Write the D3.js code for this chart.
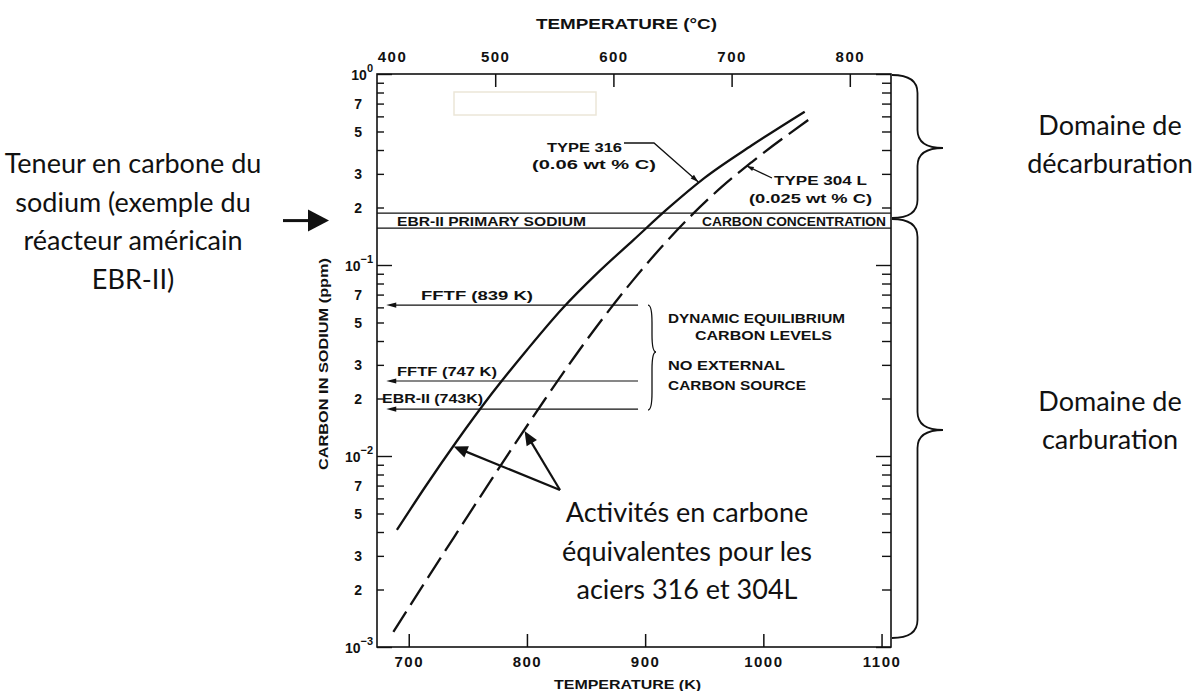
<!DOCTYPE html>
<html><head><meta charset="utf-8">
<script src="https://cdn.jsdelivr.net/npm/d3@7"></script>
<style>
html,body{margin:0;padding:0;background:#fff;}
svg{display:block;}
.fig{font-family:"Liberation Sans",Arial,sans-serif;font-weight:bold;fill:#111;}
.note{font-family:Lato,"Open Sans",sans-serif;fill:#111;font-size:27px;}
</style></head><body>
<svg id="chart" width="1203" height="691"></svg>
<script>
// ---------------- data ----------------
const tempK316   = [690, 715, 740, 770, 800, 830, 860, 890, 920, 950, 990, 1035];
const carbon316  = [0.0041, 0.00705, 0.0118, 0.0211, 0.0359, 0.0592, 0.0912, 0.135, 0.1995, 0.285, 0.422, 0.635];
const tempK304L  = [687, 710, 740, 765, 790, 815, 840, 865, 890, 915, 940, 965, 990, 1041];
const carbon304L = [0.0012, 0.00201, 0.0039, 0.00675, 0.0116, 0.0197, 0.0329, 0.0533, 0.0836, 0.1265, 0.184, 0.257, 0.345, 0.592];
const bandCarbon = [0.156, 0.187];                 // EBR-II primary sodium band
const refLabels  = ["FFTF (839 K)", "FFTF (747 K)", "EBR-II (743K)"];
const refCarbon  = [0.0617, 0.0247, 0.0176];
const refTempK   = [681, 894];                      // extent of the reference arrows
const xTicksK    = [700, 800, 900, 1000, 1100];
const xTicksC    = [400, 500, 600, 700, 800];
const yLabelDigits = [2, 3, 5, 7];
const yDecadeExp = [-3, -2, -1, 0];

// ---------------- layout ----------------
const svg = d3.select("#chart");
const L = 377, R = 891, T = 74, B = 647;
const x  = d3.scaleLinear().domain([673.15, 1108]).range([L, R]);
const xC = d3.scaleLinear().domain([673.15 - 273.15, 1108 - 273.15]).range([L, R]);
const y  = d3.scaleLog().domain([1e-3, 1]).range([B, T]);

const yTickVals = [];
yDecadeExp.forEach(e => {
  if (e === 0) { yTickVals.push(1); return; }
  for (let k = 1; k <= 9; k++) yTickVals.push(k * Math.pow(10, e));
});
const isDecade = v => Math.abs(Math.log10(v) - Math.round(Math.log10(v))) < 1e-6;
const leadDigit = v => Math.round(v / Math.pow(10, Math.floor(Math.log10(v) + 1e-9)));

// beige artifact box
svg.append("rect").attr("x", 454).attr("y", 92).attr("width", 142).attr("height", 23)
  .attr("fill", "none").attr("stroke", "#ebe6d8").attr("stroke-width", 1.5);

// ---------- axes ----------
const gL = svg.append("g").attr("transform", `translate(${L},0)`)
  .call(d3.axisLeft(y).tickValues(yTickVals).tickSize(-7).tickPadding(15)
    .tickFormat(v => isDecade(v) ? "" : (yLabelDigits.includes(leadDigit(v)) ? leadDigit(v) : "")));
gL.select(".domain").remove();
gL.selectAll(".tick line").attr("stroke", "#111").attr("stroke-width", 1.4)
  .attr("x2", v => isDecade(v) ? 15 : 7);
gL.selectAll(".tick text").attr("class", "fig").style("font-size", "14px").attr("dy", "0.34em");
gL.selectAll(".tick").filter(v => isDecade(v)).each(function(v) {
  const e = Math.round(Math.log10(v));
  const t = d3.select(this).append("text").attr("class", "fig").attr("text-anchor", "end")
    .attr("x", -4).attr("y", 5);
  t.append("tspan").style("font-size", "14px").text("10");
  t.append("tspan").style("font-size", "11px").attr("dy", -8)
    .text(e === 0 ? "0" : "\u2212" + Math.abs(e));
});

const gR = svg.append("g").attr("transform", `translate(${R},0)`)
  .call(d3.axisRight(y).tickValues(yTickVals).tickSize(-9).tickFormat(""));
gR.select(".domain").remove();
gR.selectAll(".tick line").attr("stroke", "#111").attr("stroke-width", 1.4)
  .attr("x2", v => isDecade(v) ? -15 : -9);

const gB = svg.append("g").attr("transform", `translate(0,${B})`)
  .call(d3.axisBottom(x).tickValues(xTicksK).tickSize(-13).tickPadding(9).tickFormat(d3.format("d")));
gB.select(".domain").remove();
gB.selectAll(".tick line").attr("stroke", "#111").attr("stroke-width", 1.5);
gB.selectAll(".tick text").attr("class", "fig").style("font-size", "15px").style("letter-spacing", "1.5px");

const gT = svg.append("g").attr("transform", `translate(0,${T})`)
  .call(d3.axisTop(xC).tickValues(xTicksC).tickSize(-13).tickPadding(12).tickFormat(d3.format("d")));
gT.select(".domain").remove();
gT.selectAll(".tick line").attr("stroke", "#111").attr("stroke-width", 1.5)
  .attr("opacity", v => v === xTicksC[0] ? 0 : 1);
gT.selectAll(".tick text").attr("class", "fig").style("font-size", "15px").style("letter-spacing", "1.5px")
  .attr("dx", v => v === xTicksC[0] ? 15 : 0);

// frame
svg.append("rect").attr("x", L).attr("y", T).attr("width", R - L).attr("height", B - T)
  .attr("fill", "none").attr("stroke", "#111").attr("stroke-width", 1.6);

// ---------- band ----------
bandCarbon.forEach(c => {
  svg.append("line").attr("x1", L).attr("x2", R).attr("y1", y(c)).attr("y2", y(c))
    .attr("stroke", "#111").attr("stroke-width", 1.4);
});
function figText(str, xx, yy, size, len, anchor) {
  return svg.append("text").attr("class", "fig").attr("x", xx).attr("y", yy)
    .style("font-size", size + "px").attr("text-anchor", anchor || "start")
    .attr("textLength", len).attr("lengthAdjust", "spacingAndGlyphs").text(str);
}
figText("EBR-II PRIMARY SODIUM", 397, 226, 12, 189);
figText("CARBON CONCENTRATION", 702, 226, 12, 184);

// ---------- curves ----------
const line = d3.line().x(d => x(d[0])).y(d => y(d[1])).curve(d3.curveMonotoneX);
svg.append("path").attr("d", line(d3.zip(tempK316, carbon316)))
  .attr("fill", "none").attr("stroke", "#111").attr("stroke-width", 2.3);
svg.append("path").attr("d", line(d3.zip(tempK304L, carbon304L)))
  .attr("fill", "none").attr("stroke", "#111").attr("stroke-width", 2.3)
  .attr("stroke-dasharray", "24,8");

// ---------- helpers ----------
function arrowHead(tx, ty, fx, fy, len, hw) {
  const a = Math.atan2(ty - fy, tx - fx);
  const bx = tx - len * Math.cos(a), by = ty - len * Math.sin(a);
  const px = -Math.sin(a) * hw, py = Math.cos(a) * hw;
  svg.append("path").attr("d", `M${tx},${ty}L${bx + px},${by + py}L${bx - px},${by - py}Z`)
    .attr("fill", "#111");
}
function brace(x0, y0, y1, ym, w, sw) {
  const xm = x0 + w / 2, r = Math.min(18, (y1 - y0) / 6);
  svg.append("path").attr("d",
    `M${x0},${y0}Q${xm},${y0} ${xm},${y0 + r}L${xm},${ym - r}Q${xm},${ym} ${x0 + w},${ym}` +
    `Q${xm},${ym} ${xm},${ym + r}L${xm},${y1 - r}Q${xm},${y1} ${x0},${y1}`)
    .attr("fill", "none").attr("stroke", "#111").attr("stroke-width", sw);
}

// ---------- reference arrows ----------
const refTextPos = [[421, 300, 112], [397, 376, 100], [382, 403, 101]];
refCarbon.forEach((c, i) => {
  const yy = y(c);
  svg.append("line").attr("x1", x(refTempK[0]) + 6).attr("x2", x(refTempK[1]))
    .attr("y1", yy).attr("y2", yy).attr("stroke", "#111").attr("stroke-width", 1.2);
  arrowHead(x(refTempK[0]), yy, x(refTempK[1]), yy, 10, 2.6);
  figText(refLabels[i], refTextPos[i][0], refTextPos[i][1], 12.5, refTextPos[i][2]);
});
brace(648, y(refCarbon[0]), y(refCarbon[2]) + 1, 352, 8, 1.3);
figText("DYNAMIC EQUILIBRIUM", 668, 323, 12, 177);
figText("CARBON LEVELS", 695, 340, 12, 137);
figText("NO EXTERNAL", 668, 370, 12, 117);
figText("CARBON SOURCE", 668, 390, 12, 138);

// ---------- type labels ----------
figText("TYPE 316", 547, 152, 13, 75);
figText("(0.06 wt % C)", 532, 169, 13, 124);
const tip316 = [x(945), y(0.272)];
svg.append("path").attr("d", `M624,143L654,143L${tip316[0]},${tip316[1]}`)
  .attr("fill", "none").attr("stroke", "#111").attr("stroke-width", 1.3);
arrowHead(tip316[0], tip316[1], 654, 143, 8, 2.5);

figText("TYPE 304 L", 774, 185, 13, 93);
figText("(0.025 wt % C)", 749, 203, 13, 123);
const tip304 = [x(986), y(0.33)];
svg.append("line").attr("x1", 772).attr("y1", 178).attr("x2", tip304[0]).attr("y2", tip304[1])
  .attr("stroke", "#111").attr("stroke-width", 1.3);
arrowHead(tip304[0], tip304[1], 772, 178, 7, 2.3);

// ---------- axis titles ----------
figText("TEMPERATURE (\u00B0C)", 536, 29, 14, 181);
figText("TEMPERATURE (K)", 554, 689, 13, 147);
svg.append("text").attr("class", "fig").attr("transform", "translate(328,364) rotate(-90)")
  .attr("text-anchor", "middle").style("font-size", "12px")
  .attr("textLength", 212).attr("lengthAdjust", "spacingAndGlyphs").text("CARBON IN SODIUM (ppm)");

// ---------- French annotations ----------
function note(lines, cx, y0, dy) {
  lines.forEach((s, i) => svg.append("text").attr("class", "note").attr("x", cx)
    .attr("y", y0 + i * dy).attr("text-anchor", "middle").text(s));
}
note(["Teneur en carbone du", "sodium (exemple du", "réacteur américain", "EBR-II)"], 133, 173, 38.5);
note(["Activités en carbone", "équivalentes pour les", "aciers 316 et 304L"], 687, 522, 38.5);
note(["Domaine de", "décarburation"], 1110, 135, 38);
note(["Domaine de", "carburation"], 1110, 411, 38);

// big arrow pointing at the band
const yBand = (y(bandCarbon[0]) + y(bandCarbon[1])) / 2;
svg.append("line").attr("x1", 283).attr("x2", 312).attr("y1", yBand).attr("y2", yBand)
  .attr("stroke", "#111").attr("stroke-width", 3);
arrowHead(329, yBand, 283, yBand, 21, 11);

// annotation arrows to curves
const origin = [560, 490];
[[738, 0.0112], [798, 0.0135]].forEach(p => {
  const tx = x(p[0]), ty = y(p[1]);
  const a = Math.atan2(ty - origin[1], tx - origin[0]);
  svg.append("line").attr("x1", origin[0]).attr("y1", origin[1])
    .attr("x2", tx - 10 * Math.cos(a)).attr("y2", ty - 10 * Math.sin(a))
    .attr("stroke", "#111").attr("stroke-width", 2.2);
  arrowHead(tx, ty, origin[0], origin[1], 14, 6);
});

// domain braces
brace(892, T + 1, 218, 148, 51, 1.8);
brace(892, 219, 638, 430, 51, 1.8);
</script>
</body></html>
